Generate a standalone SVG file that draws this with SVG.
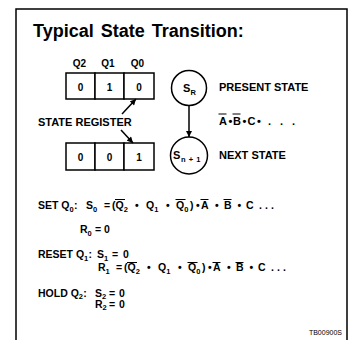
<svg xmlns="http://www.w3.org/2000/svg" width="351" height="340" viewBox="0 0 351 340">
<defs>
<style>
.t{font-family:"Liberation Sans",Arial,sans-serif;font-weight:bold;fill:#000}
.title{font-size:18px;word-spacing:2px}
.lbl{font-size:11px}
.small{font-size:10px}
.eq{font-size:10.5px}
.sub{font-size:7.5px}
.code{font-family:"Liberation Sans",Arial,sans-serif;font-size:7px;fill:#000}
.cell{fill:#fff;stroke:#000;stroke-width:1.5}
.state{fill:#fff;stroke:#000;stroke-width:1.5}
.bar{stroke:#000;stroke-width:1}
.conn{stroke:#000;stroke-width:1.5;fill:none}
</style>
<marker id="ah" viewBox="0 0 10 10" refX="10" refY="5" markerWidth="7" markerHeight="6" markerUnits="userSpaceOnUse" orient="auto">
<path d="M0,0 L10,5 L0,10 z" fill="#000"/>
</marker>
</defs>
<rect width="351" height="340" fill="#fff"/>
<path d="M16,345 V9 H347 V345" fill="none" stroke="#000" stroke-width="1.5"/>
<text class="t title" x="33" y="37">Typical State Transition:</text>

<g id="register-present">
<text class="t small" x="79.5" y="67" text-anchor="middle">Q2</text>
<text class="t small" x="108" y="67" text-anchor="middle">Q1</text>
<text class="t small" x="137.5" y="67" text-anchor="middle">Q0</text>
<rect class="cell" x="66" y="73" width="29" height="26"/>
<rect class="cell" x="95" y="73" width="29" height="26"/>
<rect class="cell" x="124" y="73" width="30" height="26"/>
<text class="t small" x="80.5" y="91" text-anchor="middle">0</text>
<text class="t small" x="109.5" y="91" text-anchor="middle">1</text>
<text class="t small" x="139" y="91" text-anchor="middle">0</text>
</g>

<g id="register-label">
<text class="t lbl" x="38" y="126">STATE REGISTER</text>
</g>

<g id="register-next">
<rect class="cell" x="66" y="143" width="29" height="27"/>
<rect class="cell" x="95" y="143" width="29" height="27"/>
<rect class="cell" x="124" y="143" width="30" height="27"/>
<text class="t small" x="80.5" y="161" text-anchor="middle">0</text>
<text class="t small" x="109.5" y="161" text-anchor="middle">0</text>
<text class="t small" x="139" y="161" text-anchor="middle">1</text>
</g>

<g id="state-present">
<circle class="state" cx="189" cy="88" r="17.5"/>
<text class="t lbl" x="183" y="92">S</text>
<text class="t sub" x="190.5" y="95">R</text>
<text class="t lbl" x="219" y="91">PRESENT STATE</text>
</g>

<g id="transition-condition">
<text class="t lbl" y="125"><tspan x="219">A</tspan><tspan x="228.5">•</tspan><tspan x="233">B</tspan><tspan x="242.5">•</tspan><tspan x="247.5">C</tspan><tspan x="257">•</tspan><tspan x="268">.</tspan><tspan x="280">.</tspan><tspan x="292">.</tspan></text>
<line class="bar" x1="218.5" y1="114" x2="226.5" y2="114"/>
<line class="bar" x1="232.5" y1="114" x2="240.5" y2="114"/>
</g>

<g id="state-next">
<circle class="state" cx="189" cy="155.5" r="18.5"/>
<text class="t lbl" x="173" y="159">S</text>
<text class="t sub" x="181" y="162" word-spacing="1px">n + 1</text>
<text class="t lbl" x="219" y="159">NEXT STATE</text>
</g>

<g id="connectors">
<line class="conn" x1="122" y1="114" x2="136" y2="99" marker-end="url(#ah)"/>
<line class="conn" x1="121" y1="130" x2="133" y2="143" marker-end="url(#ah)"/>
<line class="conn" x1="189" y1="105.5" x2="189" y2="137" marker-end="url(#ah)"/>
</g>

<g id="equations">
<text class="t eq" y="209"><tspan x="38">SET Q</tspan><tspan class="sub" x="69.5" y="211.5">0</tspan><tspan x="74" y="209">:</tspan><tspan x="86">S</tspan><tspan class="sub" x="93" y="211.5">0</tspan><tspan x="104" y="209">=</tspan><tspan x="112">(</tspan><tspan x="115.5">Q</tspan><tspan class="sub" x="123.7" y="211.5">2</tspan><tspan x="135" y="209">•</tspan><tspan x="146">Q</tspan><tspan class="sub" x="154.2" y="211.5">1</tspan><tspan x="166" y="209">•</tspan><tspan x="176">Q</tspan><tspan class="sub" x="184.2" y="211.5">0</tspan><tspan x="190" y="209">)</tspan><tspan x="196">•</tspan><tspan x="201">A</tspan><tspan x="215">•</tspan><tspan x="224">B</tspan><tspan x="237.5">•</tspan><tspan x="246">C</tspan><tspan x="259">.</tspan><tspan x="265">.</tspan><tspan x="271">.</tspan></text>
<line class="bar" x1="115" y1="199.5" x2="125" y2="199.5"/>
<line class="bar" x1="175.5" y1="199.5" x2="185.5" y2="199.5"/>
<line class="bar" x1="200.5" y1="199.5" x2="208.5" y2="199.5"/>
<line class="bar" x1="223.5" y1="199.5" x2="231.5" y2="199.5"/>

<text class="t eq" y="233"><tspan x="80">R</tspan><tspan class="sub" x="87.6" y="235.5">0</tspan><tspan x="95" y="233">=</tspan><tspan x="104">0</tspan></text>

<text class="t eq" y="258"><tspan x="38">RESET Q</tspan><tspan class="sub" x="84.1" y="260.5">1</tspan><tspan x="88.6" y="258">:</tspan><tspan x="97">S</tspan><tspan class="sub" x="104" y="260.5">1</tspan><tspan x="112" y="258">=</tspan><tspan x="123">0</tspan></text>

<text class="t eq" y="271"><tspan x="98">R</tspan><tspan class="sub" x="105.6" y="273.5">1</tspan><tspan x="116" y="271">=</tspan><tspan x="124">(</tspan><tspan x="127.5">Q</tspan><tspan class="sub" x="135.7" y="273.5">2</tspan><tspan x="147" y="271">•</tspan><tspan x="158">Q</tspan><tspan class="sub" x="166.2" y="273.5">1</tspan><tspan x="178" y="271">•</tspan><tspan x="188">Q</tspan><tspan class="sub" x="196.2" y="273.5">0</tspan><tspan x="202" y="271">)</tspan><tspan x="208">•</tspan><tspan x="213">A</tspan><tspan x="227">•</tspan><tspan x="236">B</tspan><tspan x="249.5">•</tspan><tspan x="258">C</tspan><tspan x="271">.</tspan><tspan x="277">.</tspan><tspan x="283">.</tspan></text>
<line class="bar" x1="127" y1="262.5" x2="137" y2="262.5"/>
<line class="bar" x1="187.5" y1="262.5" x2="197.5" y2="262.5"/>
<line class="bar" x1="212.5" y1="262.5" x2="220.5" y2="262.5"/>
<line class="bar" x1="235.5" y1="262.5" x2="243.5" y2="262.5"/>

<text class="t eq" y="296.5"><tspan x="38">HOLD Q</tspan><tspan class="sub" x="78.8" y="299">2</tspan><tspan x="83.3" y="296.5">:</tspan><tspan x="95">S</tspan><tspan class="sub" x="102" y="299">2</tspan><tspan x="109" y="296.5">=</tspan><tspan x="119">0</tspan></text>
<text class="t eq" y="307.5"><tspan x="95">R</tspan><tspan class="sub" x="102.6" y="310">2</tspan><tspan x="109" y="307.5">=</tspan><tspan x="119">0</tspan></text>
</g>

<text class="code" x="342" y="335" text-anchor="end">TB00900S</text>
</svg>
